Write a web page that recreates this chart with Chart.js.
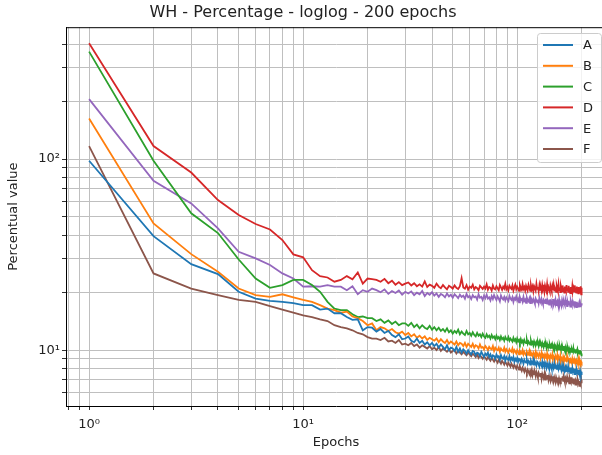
<!DOCTYPE html>
<html>
<head>
<meta charset="utf-8">
<script src="https://cdn.jsdelivr.net/npm/chart.js@4.4.0/dist/chart.umd.min.js"></script>
<style>
  html, body { margin: 0; padding: 0; background: #fff; overflow: hidden; }
  #wrap { width: 672px; height: 455px; }
</style>
</head>
<body>
<div id="wrap"><canvas id="myChart"></canvas></div>
<script>
// epochs 1..200 (x categories)
var epochs = [];
for (let i = 1; i <= 200; i++) epochs.push(i);

var seriesNames = ["A", "B", "C", "D", "E", "F"];
var seriesColors = ["#1f77b4", "#ff7f0e", "#2ca02c", "#d62728", "#9467bd", "#8c564b"];

var valuesA = [
  98, 39.5, 28.2, 25, 20.2, 18.6, 18.1, 17.9, 17.6, 17.2,
  17.2, 16.3, 16.5, 15.6, 15.6, 14.9, 14.4, 14.5, 12.7, 13.2,
  13.1, 12.5, 12.9, 12.3, 12.6, 12.0, 11.7, 12.1, 11.4, 11.5,
  11.8, 11.2, 11.0, 11.5, 10.9, 11.2, 10.7, 11.0, 10.6, 10.9,
  10.5, 10.8, 10.3, 10.7, 10.4, 10.1, 10.6, 10.0, 10.3, 10.2,
  9.9, 10.4, 9.8, 10.2, 9.7, 10.1, 9.9, 9.6, 10.0, 9.7,
  9.5, 9.9, 9.8, 9.4, 9.7, 9.6, 9.3, 9.8, 9.5, 9.2,
  9.6, 9.4, 9.7, 9.2, 9.5, 9.1, 9.4, 9.3, 9.0, 9.5,
  9.2, 9.3, 8.9, 9.4, 9.1, 9.0, 9.3, 8.8, 9.2, 9.0,
  8.9, 9.3, 8.8, 9.1, 8.9, 9.2, 8.7, 9.0, 8.8, 9.1,
  8.7, 9.0, 8.9, 8.6, 9.0, 8.8, 8.5, 8.9, 8.7, 8.6,
  8.9, 8.5, 8.8, 8.7, 8.4, 8.8, 8.6, 8.5, 8.9, 8.4,
  8.7, 8.5, 8.3, 8.7, 8.6, 8.4, 8.2, 8.6, 8.5, 8.3,
  8.7, 8.3, 8.5, 8.2, 8.6, 8.4, 8.1, 8.5, 8.3, 8.2,
  8.5, 8.1, 8.4, 8.3, 8.0, 8.4, 8.2, 8.1, 8.5, 8.0,
  8.3, 8.2, 7.9, 8.3, 8.1, 8.0, 8.4, 7.9, 8.2, 8.0,
  7.9, 8.3, 8.0, 7.8, 8.2, 8.0, 7.9, 8.1, 7.7, 8.1,
  7.9, 7.8, 8.2, 7.7, 8.0, 7.9, 7.6, 8.1, 7.8, 7.7,
  8.0, 7.6, 7.9, 7.8, 7.5, 8.0, 7.7, 7.6, 7.9, 7.5,
  7.8, 7.7, 7.5, 7.9, 7.6, 7.4, 7.8, 7.6, 7.5, 7.7
];

var valuesB = [
  163, 46, 31.8, 25.7, 21.0, 19.4, 19.0, 19.6, 18.9, 18.3,
  17.9, 17.2, 16.5, 16.2, 15.7, 15.9, 15.0, 14.7, 14.2, 13.5,
  13.8, 12.7, 13.2, 13.0, 12.6, 12.9, 12.4, 12.2, 12.5, 12.0,
  12.3, 11.8, 12.1, 11.6, 11.9, 11.5, 11.8, 11.3, 11.6, 11.4,
  11.2, 11.5, 11.0, 11.4, 11.1, 10.9, 11.3, 10.8, 11.1, 10.9,
  10.7, 11.1, 10.6, 10.9, 10.8, 10.5, 10.9, 10.4, 10.8, 10.6,
  10.4, 10.8, 10.3, 10.6, 10.5, 10.2, 10.7, 10.3, 10.4, 10.1,
  10.5, 10.3, 10.0, 10.4, 10.2, 10.1, 10.5, 9.9, 10.3, 10.1,
  10.0, 10.3, 9.8, 10.2, 10.0, 9.9, 10.3, 9.8, 10.1, 9.9,
  9.7, 10.1, 9.9, 9.8, 10.2, 9.7, 10.0, 9.8, 9.6, 10.0,
  9.8, 9.5, 9.9, 9.7, 9.6, 10.0, 9.5, 9.8, 9.6, 9.4,
  9.8, 9.6, 9.5, 9.9, 9.4, 9.7, 9.5, 9.3, 9.7, 9.5,
  9.4, 9.8, 9.3, 9.6, 9.4, 9.2, 9.6, 9.4, 9.3, 9.7,
  9.2, 9.5, 9.4, 9.1, 9.5, 9.3, 9.2, 9.6, 9.1, 9.4,
  9.3, 9.0, 9.4, 9.2, 9.1, 9.5, 9.0, 9.3, 9.2, 8.9,
  9.3, 9.1, 9.0, 9.4, 8.9, 9.2, 9.0, 8.9, 9.3, 8.8,
  9.1, 9.0, 8.8, 9.2, 8.9, 9.1, 8.7, 9.0, 8.9, 8.8,
  9.2, 8.7, 9.0, 8.8, 8.7, 9.1, 8.6, 8.9, 8.8, 8.6,
  9.0, 8.7, 8.8, 8.5, 8.9, 8.7, 8.6, 9.0, 8.5, 8.8,
  8.7, 8.5, 8.9, 8.6, 8.4, 8.8, 8.6, 8.5, 8.7, 8.6
];

var valuesC = [
  365, 98, 52, 41, 29.8, 23.7, 21.2, 21.9, 23.3, 23.3,
  21.9, 20.2, 17.9, 16.5, 16.2, 16.2, 15.4, 14.9, 15.0, 14.7,
  14.7, 14.2, 14.5, 13.9, 14.3, 13.7, 14.1, 13.5, 13.8, 13.8,
  13.4, 13.9, 13.2, 13.6, 13.0, 13.5, 13.1, 12.9, 13.4, 12.8,
  13.2, 12.7, 13.1, 12.6, 12.9, 12.5, 13.0, 12.4, 12.7, 12.2,
  12.6, 12.3, 12.8, 12.1, 12.5, 12.2, 12.0, 12.6, 12.1, 12.3,
  11.9, 12.4, 12.0, 11.8, 12.3, 11.9, 12.1, 11.7, 12.2, 11.8,
  11.6, 12.1, 11.7, 11.9, 11.5, 12.0, 11.6, 11.8, 11.4, 11.9,
  11.5, 11.7, 11.3, 11.8, 11.4, 11.6, 11.2, 11.7, 11.4, 11.3,
  11.7, 11.2, 11.5, 11.3, 11.1, 11.6, 11.2, 11.4, 11.0, 11.5,
  11.1, 11.3, 10.9, 11.4, 11.0, 11.2, 10.8, 11.3, 11.0, 10.9,
  11.3, 10.8, 11.1, 10.9, 10.7, 11.2, 10.8, 11.0, 10.6, 11.1,
  10.8, 10.6, 11.0, 10.7, 10.9, 10.5, 11.0, 10.6, 10.8, 10.5,
  10.9, 10.6, 10.4, 10.8, 10.5, 10.7, 10.3, 10.8, 10.5, 10.6,
  10.3, 10.7, 10.4, 10.6, 10.2, 10.7, 10.4, 10.3, 10.6, 10.2,
  10.5, 10.3, 10.1, 10.6, 10.2, 10.4, 10.1, 10.5, 10.2, 10.0,
  10.4, 10.1, 10.3, 10.0, 10.5, 10.1, 9.9, 10.3, 10.0, 10.2,
  9.9, 10.3, 10.0, 9.8, 10.2, 10.0, 9.9, 10.3, 9.8, 10.1,
  9.9, 9.8, 10.2, 9.7, 10.0, 9.9, 9.7, 10.1, 9.8, 9.9,
  10.1, 9.7, 9.9, 9.8, 9.6, 10.0, 9.7, 9.9, 9.6, 9.3
];

var valuesD = [
  404, 117, 85, 61, 50.9, 45.7, 42.8, 37.7, 31.7, 30.6,
  26.2, 24.4, 24.0, 22.8, 23.3, 24.4, 23.5, 25.5, 22.3, 23.7,
  23.5, 23.3, 22.8, 23.6, 22.4, 23.1, 22.0, 22.7, 21.9, 22.3,
  22.6, 21.8, 22.4, 21.6, 22.1, 21.5, 22.9, 21.4, 22.0, 21.7,
  21.2, 22.3, 21.5, 21.1, 21.9, 21.3, 20.8, 21.7, 21.4, 21.0,
  21.8, 21.2, 20.9, 21.6, 23.8, 21.3, 21.0, 21.9, 20.7, 21.5,
  21.2, 22.0, 20.8, 21.4, 21.1, 20.6, 21.7, 21.3, 20.9, 21.5,
  21.0, 22.1, 20.7, 21.4, 21.2, 20.5, 21.8, 21.0, 20.8, 21.6,
  21.1, 20.6, 21.9, 21.3, 20.7, 21.5, 21.0, 22.2, 20.8, 21.4,
  20.6, 21.7, 21.2, 20.9, 21.8, 20.5, 21.3, 22.0, 20.8, 21.5,
  21.1, 20.4, 21.9, 21.2, 20.7, 22.1, 20.9, 21.4, 20.5, 21.7,
  21.0, 20.6, 22.0, 21.3, 20.4, 21.8, 20.8, 21.5, 20.3, 21.6,
  21.1, 20.5, 22.2, 20.9, 21.4, 20.3, 21.8, 20.7, 21.2, 20.4,
  21.9, 20.8, 21.3, 20.2, 21.7, 21.0, 20.5, 22.1, 20.6, 21.4,
  20.9, 20.3, 21.8, 21.1, 20.4, 21.6, 20.7, 21.9, 20.5, 21.2,
  20.8, 20.2, 21.7, 21.0, 20.4, 22.0, 20.6, 21.3, 20.1, 21.6,
  20.9, 20.3, 21.8, 20.5, 21.2, 20.0, 21.5, 20.8, 20.4, 21.9,
  20.6, 21.1, 20.2, 21.7, 20.5, 20.9, 19.9, 21.4, 20.7, 20.3,
  21.6, 20.4, 21.0, 20.1, 21.8, 20.6, 20.2, 21.3, 20.0, 21.5,
  20.5, 20.9, 19.8, 21.4, 20.3, 21.1, 20.0, 21.6, 19.6, 21.2
];

var valuesE = [
  206, 77, 58.6, 43.4, 32.7, 30.2, 27.9, 25.2, 23.7, 21.5,
  21.6, 21.5, 21.9, 21.5, 21.5, 20.6, 21.6, 19.6, 20.6, 20.2,
  21.0, 20.6, 20.1, 20.8, 19.7, 20.4, 19.9, 20.5, 19.5, 20.2,
  19.8, 20.3, 19.4, 20.0, 19.6, 20.4, 19.2, 19.9, 19.5, 20.1,
  19.3, 19.8, 19.0, 19.7, 19.4, 18.9, 19.8, 19.1, 19.5, 18.8,
  19.6, 19.2, 18.7, 19.5, 19.0, 19.3, 18.6, 19.7, 18.9, 19.2,
  18.5, 19.4, 18.9, 19.1, 18.4, 19.6, 18.8, 19.0, 18.3, 19.3,
  18.7, 19.5, 18.6, 18.9, 18.2, 19.2, 18.5, 19.4, 18.8, 18.3,
  19.1, 18.6, 18.0, 19.3, 18.7, 18.4, 19.0, 18.2, 18.9, 18.5,
  18.1, 19.2, 18.6, 18.3, 18.9, 17.9, 18.7, 18.4, 19.1, 18.2,
  18.6, 17.8, 18.9, 18.3, 18.5, 17.9, 19.0, 18.1, 18.4, 17.7,
  18.8, 18.2, 18.0, 18.6, 17.6, 18.7, 18.3, 17.9, 18.5, 18.0,
  17.5, 18.6, 18.2, 17.8, 18.4, 17.6, 18.7, 18.0, 17.7, 18.5,
  17.9, 17.4, 18.3, 18.0, 17.6, 18.6, 17.8, 17.5, 18.2, 17.9,
  17.3, 18.4, 17.7, 18.1, 17.5, 17.9, 18.5, 17.4, 18.0, 17.6,
  18.3, 17.2, 17.8, 18.1, 17.5, 17.7, 18.4, 17.3, 17.9, 17.6,
  17.1, 18.2, 17.7, 17.4, 18.0, 17.5, 17.2, 18.3, 17.6, 17.8,
  17.0, 17.9, 17.4, 18.1, 17.3, 17.6, 16.9, 18.0, 17.5, 17.2,
  17.8, 17.1, 17.7, 17.4, 16.9, 18.0, 17.3, 17.5, 16.8, 17.9,
  17.2, 17.6, 16.9, 17.4, 17.8, 17.0, 17.5, 16.8, 17.3, 17.6
];

var valuesF = [
  117, 25.2, 21.0, 19.4, 18.3, 17.9, 17.0, 16.3, 15.7, 15.2,
  14.9, 14.5, 14.2, 13.5, 13.2, 13.0, 12.7, 12.3, 12.1, 11.7,
  11.5, 11.5, 11.3, 11.6, 11.1, 11.2, 10.9, 11.3, 10.7, 10.8,
  10.6, 10.9, 10.5, 10.7, 10.3, 10.6, 10.4, 10.2, 10.5, 10.1,
  10.3, 10.0, 10.4, 9.9, 10.2, 10.0, 9.8, 10.1, 9.7, 9.9,
  10.0, 9.6, 9.9, 9.7, 9.5, 9.8, 9.6, 9.4, 9.7, 9.5,
  9.3, 9.6, 9.4, 9.2, 9.5, 9.1, 9.4, 9.2, 9.0, 9.3,
  9.1, 8.9, 9.2, 9.0, 8.8, 9.1, 8.9, 8.7, 9.0, 8.8,
  8.6, 8.9, 8.7, 8.5, 8.8, 8.6, 8.4, 8.7, 8.5, 8.3,
  8.6, 8.4, 8.2, 8.5, 8.3, 8.1, 8.4, 8.2, 8.0, 8.3,
  8.1, 7.9, 8.2, 8.0, 7.8, 8.1, 7.9, 7.7, 8.0, 7.8,
  7.6, 7.9, 7.7, 7.5, 7.8, 7.6, 7.9, 7.4, 7.7, 7.5,
  7.6, 7.3, 7.7, 7.5, 7.2, 7.6, 7.4, 7.3, 7.6, 7.1,
  7.5, 7.3, 7.2, 7.5, 7.0, 7.4, 7.2, 7.1, 7.4, 7.0,
  7.3, 7.1, 6.9, 7.3, 7.1, 7.0, 7.3, 6.9, 7.2, 7.0,
  6.8, 7.2, 7.0, 6.9, 7.2, 6.8, 7.1, 6.9, 6.7, 7.1,
  7.1, 7.0, 7.3, 6.9, 7.2, 7.0, 6.8, 7.2, 7.1, 6.9,
  7.2, 6.8, 7.1, 7.0, 6.7, 7.1, 6.9, 6.8, 7.2, 6.7,
  7.0, 6.9, 6.7, 7.1, 6.8, 7.0, 6.6, 6.9, 6.8, 6.7,
  7.0, 6.6, 6.9, 6.8, 6.5, 6.9, 6.7, 6.6, 7.0, 6.7
];

var allValues = [valuesA, valuesB, valuesC, valuesD, valuesE, valuesF];

// gridline / tick positions (matplotlib style major+minor)
var xTicks = [0.8, 0.9, 1, 2, 3, 4, 5, 6, 7, 8, 9, 10, 20, 30, 40, 50, 60, 70, 80, 90, 100, 200];
var yTicks = [6, 7, 8, 9, 10, 20, 30, 40, 50, 60, 70, 80, 90, 100, 200, 300, 400];
var supDigits = {"0": "\u2070", "1": "\u00b9", "2": "\u00b2", "3": "\u00b3"};

function logLabel(v) {
  var e = Math.log10(v);
  if (Math.abs(e - Math.round(e)) > 1e-9) return "";
  return "10" + supDigits[String(Math.round(e))];
}

// top / right spine (matplotlib box)
const frame = {
  id: "frame",
  afterDatasetsDraw(chart) {
    const {ctx, chartArea} = chart;
    ctx.save();
    ctx.strokeStyle = "#000";
    ctx.lineWidth = 1;
    ctx.beginPath();
    ctx.moveTo(chartArea.left, chartArea.top + 0.5);
    ctx.lineTo(chartArea.right, chartArea.top + 0.5);
    ctx.moveTo(chartArea.right - 0.5, chartArea.top);
    ctx.lineTo(chartArea.right - 0.5, chartArea.bottom);
    ctx.stroke();
    ctx.restore();
  }
};

// legend box in the upper right corner, like plt.legend()
const boxLegend = {
  id: "boxLegend",
  afterDraw(chart) {
    const ctx = chart.ctx;
    const x = 537, y = 33, w = 64, h = 129;
    ctx.save();
    ctx.fillStyle = "rgba(255,255,255,0.8)";
    ctx.strokeStyle = "#cccccc";
    ctx.lineWidth = 1;
    ctx.beginPath();
    ctx.roundRect(x + 0.5, y + 0.5, w, h, 3);
    ctx.fill();
    ctx.stroke();
    ctx.font = "13px 'DejaVu Sans'";
    ctx.textBaseline = "middle";
    chart.data.datasets.forEach(function(ds, i) {
      const ry = 45 + i * 20.8;
      ctx.strokeStyle = ds.borderColor;
      ctx.lineWidth = 2;
      ctx.beginPath();
      ctx.moveTo(543, ry);
      ctx.lineTo(573, ry);
      ctx.stroke();
      ctx.fillStyle = "#222";
      ctx.fillText(ds.label, 583, ry + 1);
    });
    ctx.restore();
  }
};

new Chart("myChart", {
  type: "line",
  data: {
    labels: epochs,
    datasets: seriesNames.map(function(name, i) {
      return {
        label: name,
        data: allValues[i],
        borderColor: seriesColors[i],
        backgroundColor: seriesColors[i],
        borderWidth: 1.8,
        pointRadius: 0,
        fill: false,
        tension: 0
      };
    })
  },
  options: {
    animation: false,
    responsive: true,
    maintainAspectRatio: false,
    devicePixelRatio: 1,
    layout: {padding: {left: 0, right: 66, top: 0, bottom: 0}},
    plugins: {
      legend: {display: false},
      tooltip: {enabled: false},
      title: {
        display: true,
        text: "WH - Percentage - loglog - 200 epochs",
        color: "#222",
        font: {family: "'DejaVu Sans'", size: 16, weight: "normal"},
        padding: {top: 3, bottom: 5}
      }
    },
    scales: {
      x: {
        type: "logarithmic",
        min: 0.78,
        max: 260,
        afterBuildTicks: function(scale) {
          scale.ticks = xTicks.map(function(v) { return {value: v}; });
        },
        afterFit: function(scale) { scale.height = 49; },
        grid: {color: "#bfbfbf", lineWidth: 1, tickLength: 4, tickColor: "#333"},
        border: {display: true, color: "#000", width: 1},
        ticks: {
          autoSkip: false,
          maxRotation: 0,
          padding: 7,
          color: "#222",
          font: {family: "'DejaVu Sans'", size: 13},
          callback: function(v) { return logLabel(v); }
        },
        title: {
          display: true,
          text: "Epochs",
          color: "#222",
          font: {family: "'DejaVu Sans'", size: 13},
          padding: {top: 0, bottom: 5}
        }
      },
      y: {
        type: "logarithmic",
        min: 5.1,
        max: 490,
        afterBuildTicks: function(scale) {
          scale.ticks = yTicks.map(function(v) { return {value: v}; });
        },
        afterFit: function(scale) { scale.width = 66; },
        grid: {color: "#bfbfbf", lineWidth: 1, tickLength: 4, tickColor: "#333"},
        border: {display: true, color: "#000", width: 1},
        ticks: {
          autoSkip: false,
          padding: 2,
          color: "#222",
          font: {family: "'DejaVu Sans'", size: 13},
          callback: function(v) { return logLabel(v); }
        },
        title: {
          display: true,
          text: "Percentual value",
          color: "#222",
          font: {family: "'DejaVu Sans'", size: 13},
          padding: {top: 6, bottom: 0}
        }
      }
    }
  },
  plugins: [frame, boxLegend]
});
</script>
</body>
</html>
